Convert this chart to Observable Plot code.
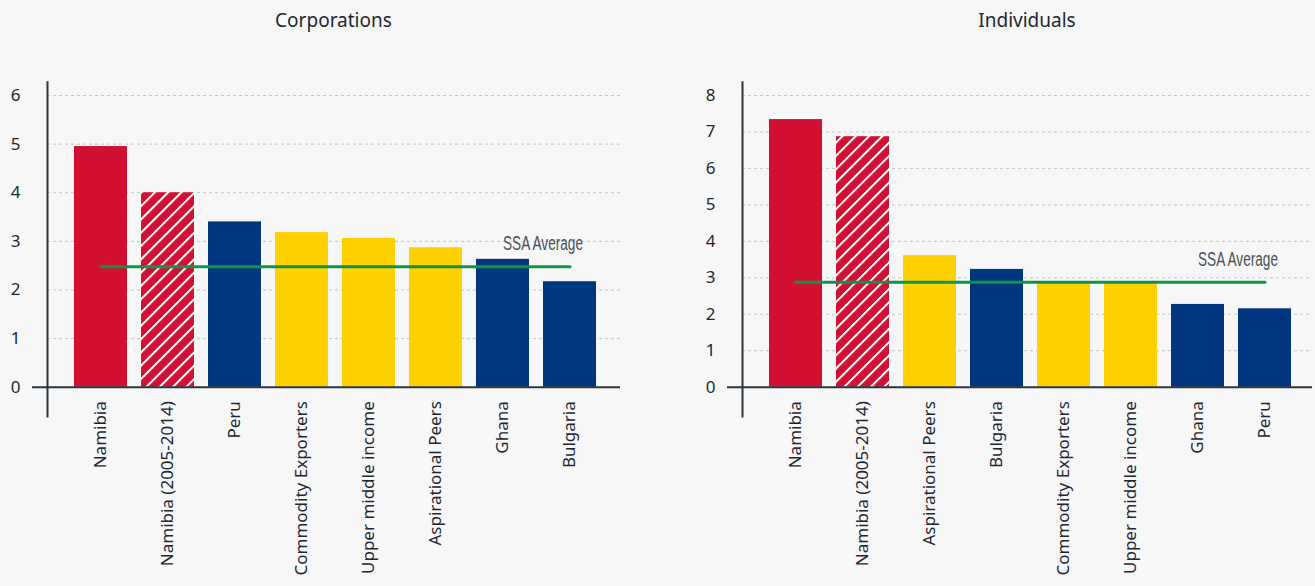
<!DOCTYPE html>
<html>
<head>
<meta charset="utf-8">
<script src="https://cdn.jsdelivr.net/npm/d3@7"></script>
<script src="https://cdn.jsdelivr.net/npm/@observablehq/plot@0.6"></script>
<style>
  html, body { margin: 0; padding: 0; background: #f7f7f7; }
  #wrap { width: 1315px; height: 586px; display: flex; flex-direction: row; overflow: hidden; }
  .col { display: flex; flex-direction: column; }
  .title { height: 40px; line-height: 40px; text-align: center; font-family: "Noto Sans", sans-serif; font-size: 19px; color: #1d2733; box-sizing: border-box; }
  svg { display: block; }
</style>
</head>
<body>
<svg width="0" height="0" style="position:absolute">
  <defs>
    <pattern id="hatch" patternUnits="userSpaceOnUse" width="9.4" height="9.4" patternTransform="rotate(45)">
      <rect x="0" y="0" width="9.4" height="9.4" fill="#d21034"></rect>
      <rect x="0" y="0" width="2" height="9.4" fill="#ffffff"></rect>
    </pattern>
  </defs>
</svg>
<div id="wrap">
  <div class="col" id="left" style="width:658px">
    <div class="title" style="padding-left:47px;padding-right:38px">Corporations</div>
  </div>
  <div class="col" id="right" style="width:657px">
    <div class="title" style="padding-left:84px;padding-right:3px">Individuals</div>
  </div>
</div>
<script>
// ---- Data ----
const corpCategories = ["Namibia", "Namibia (2005-2014)", "Peru", "Commodity Exporters", "Upper middle income", "Aspirational Peers", "Ghana", "Bulgaria"];
const corpValues = [4.95, 4.0, 3.40, 3.18, 3.06, 2.87, 2.63, 2.17];
const corpKinds = ["namibia", "namibiaHist", "country", "group", "group", "group", "country", "country"];
const corpSSA = 2.48;
const corpTicks = [0, 1, 2, 3, 4, 5, 6];

const indCategories = ["Namibia", "Namibia (2005-2014)", "Aspirational Peers", "Bulgaria", "Commodity Exporters", "Upper middle income", "Ghana", "Peru"];
const indValues = [7.34, 6.87, 3.61, 3.23, 2.85, 2.85, 2.27, 2.15];
const indKinds = ["namibia", "namibiaHist", "group", "country", "group", "group", "country", "country"];
const indSSA = 2.88;
const indTicks = [0, 1, 2, 3, 4, 5, 6, 7, 8];

const avgLabel = "SSA Average";

const kindFill = {
  namibia: "#d21034",
  namibiaHist: "url(#hatch)",
  country: "#00367f",
  group: "#ffd100"
};

function makeChart({categories, values, kinds, ssa, ticks, width, marginLeft, marginRight, xRange, yMax}) {
  const rows = categories.map((c, i) => ({category: c, value: values[i], fill: kindFill[kinds[i]]}));
  const plot = Plot.plot({
    width,
    height: 546,
    marginLeft,
    marginRight,
    marginTop: 41.7,
    marginBottom: 170,
    style: {fontFamily: "Noto Sans, sans-serif", fontSize: "17px", color: "#1d2733", background: "transparent", overflow: "visible"},
    x: {domain: categories, range: xRange, paddingInner: 0.21, paddingOuter: 0.105, axis: null},
    y: {domain: [0, yMax], range: [346.7, 55], axis: null, label: null},
    color: {type: "identity"},
    marks: [
      Plot.ruleY(ticks.filter(t => t > 0), {stroke: "#c6c6c6", strokeWidth: 1, strokeDasharray: "3,3"}),
      Plot.axisY({ticks, tickSize: 0, tickPadding: 27, tickFormat: d => String(d), fill: "#1d2733", fontSize: 17, label: null}),
      Plot.barY(rows, {x: "category", y: "value", fill: "fill"}),
      Plot.frame({anchor: "left", stroke: "#2a3440", strokeWidth: 2}),
      Plot.ruleY([0], {stroke: "#2a3440", strokeWidth: 2, insetLeft: -15}),
      Plot.line(rows, {x: "category", y: () => ssa, stroke: "#0f9346", strokeWidth: 3}),
      Plot.text([avgLabel], {x: () => categories[6], y: () => ssa, text: d => d, textAnchor: "start", dy: -23, fill: "#48525c", fontSize: 20, fontFamily: "Liberation Sans Narrow, Arial Narrow, sans-serif", className: "ssa-label"}),
      Plot.text(rows, {x: "category", y: () => 0, text: "category", rotate: -90, textAnchor: "end", dy: 14, fill: "#1d2733", fontSize: 17})
    ]
  });
  d3.select(plot).selectAll(".ssa-label text").attr("textLength", 80).attr("lengthAdjust", "spacingAndGlyphs");
  return plot;
}

document.getElementById("left").appendChild(makeChart({
  categories: corpCategories, values: corpValues, kinds: corpKinds, ssa: corpSSA, ticks: corpTicks,
  width: 658, marginLeft: 47, marginRight: 38, xRange: [66, 603], yMax: 6
}));
document.getElementById("right").appendChild(makeChart({
  categories: indCategories, values: indValues, kinds: indKinds, ssa: indSSA, ticks: indTicks,
  width: 657, marginLeft: 84, marginRight: 3, xRange: [103, 640], yMax: 8
}));
</script>
</body>
</html>
